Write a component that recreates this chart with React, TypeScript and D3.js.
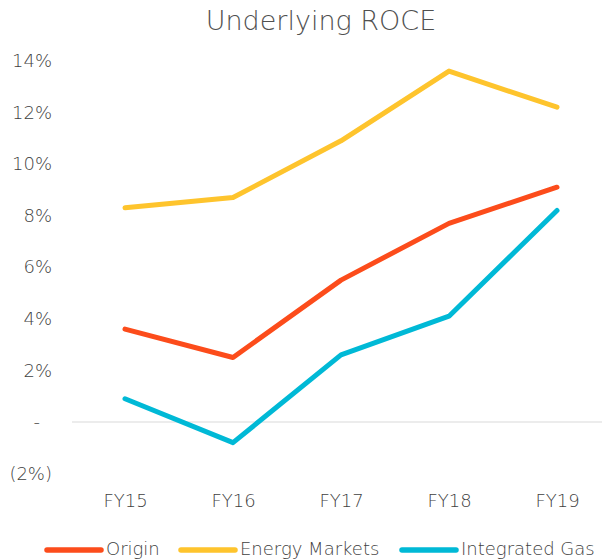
import * as d3 from "d3";
import { useEffect, useRef } from "react";

const years = ["FY15", "FY16", "FY17", "FY18", "FY19"];
const origin = [3.6, 2.5, 5.5, 7.7, 9.1];
const energyMarkets = [8.3, 8.7, 10.9, 13.6, 12.2];
const integratedGas = [0.9, -0.8, 2.6, 4.1, 8.2];
const yTicks = [-2, 0, 2, 4, 6, 8, 10, 12, 14];

const seriesList = [
  { name: "Origin", values: origin, color: "#FC4C1B" },
  { name: "Energy Markets", values: energyMarkets, color: "#FEC42D" },
  { name: "Integrated Gas", values: integratedGas, color: "#00B9D6" },
];

function App() {
  const ref = useRef<SVGSVGElement | null>(null);

  useEffect(() => {
    const svg = d3.select(ref.current);
    svg.selectAll("*").remove();

    const font = "'DejaVu Sans', sans-serif";
    const textColor = "#3f3f3f";

    const x = d3.scalePoint().domain(years).range([125, 557]);
    const y = d3.scaleLinear().domain([-2, 14]).range([473.6, 60.8]);

    // title
    svg.append("text")
      .attr("x", 321)
      .attr("y", 30)
      .attr("text-anchor", "middle")
      .attr("font-family", font)
      .attr("font-weight", 200)
      .attr("font-size", 27)
      .attr("fill", "#505050")
      .text("Underlying ROCE");

    // zero line
    svg.append("line")
      .attr("x1", 72).attr("x2", 602)
      .attr("y1", y(0)).attr("y2", y(0))
      .attr("stroke", "#d9d9d9")
      .attr("stroke-width", 1.2);

    // y axis
    const yAxis = d3.axisLeft(y)
      .tickValues(yTicks)
      .tickSize(0)
      .tickPadding(0)
      .tickFormat((d: any) => (d === 0 ? "-" : d < 0 ? `(${-d}%)` : `${d}%`));
    const gy = svg.append("g").attr("transform", "translate(52,0)").call(yAxis);
    gy.select(".domain").remove();
    gy.selectAll("text")
      .attr("font-family", font)
      .attr("font-weight", 200)
      .attr("font-size", 18)
      .attr("fill", textColor)
      .attr("dx", (d: any) => (d === 0 ? -12 : 0));

    // x axis
    const xAxis = d3.axisBottom(x).tickSize(0).tickPadding(0);
    const gx = svg.append("g").attr("transform", "translate(0,507)").call(xAxis);
    gx.select(".domain").remove();
    gx.selectAll("text")
      .attr("dy", 0)
      .attr("font-family", font)
      .attr("font-weight", 200)
      .attr("font-size", 18)
      .attr("fill", textColor);

    const line = d3.line<number>()
      .x((_, i) => x(years[i]) as number)
      .y((d) => y(d));

    seriesList.forEach((s) => {
      svg.append("path")
        .datum(s.values)
        .attr("d", line)
        .attr("fill", "none")
        .attr("stroke", s.color)
        .attr("stroke-width", 5)
        .attr("stroke-linecap", "round")
        .attr("stroke-linejoin", "round");
    });

    // legend
    const legendX = [47, 181, 402];
    const legend = svg.append("g").attr("transform", "translate(0,550)");
    seriesList.forEach((s, i) => {
      legend.append("line")
        .attr("x1", legendX[i]).attr("x2", legendX[i] + 54)
        .attr("y1", 0).attr("y2", 0)
        .attr("stroke", s.color)
        .attr("stroke-width", 5.5)
        .attr("stroke-linecap", "round");
      legend.append("text")
        .attr("x", legendX[i] + 59)
        .attr("y", 5)
        .attr("font-family", font)
        .attr("font-weight", 200)
        .attr("font-size", 18)
        .attr("fill", textColor)
        .text(s.name);
    });
  }, []);

  return (
    <svg
      ref={ref}
      width={602}
      height={560}
      style={{ position: "absolute", left: 0, top: 0, background: "#fff" }}
    />
  );
}

export default App;
